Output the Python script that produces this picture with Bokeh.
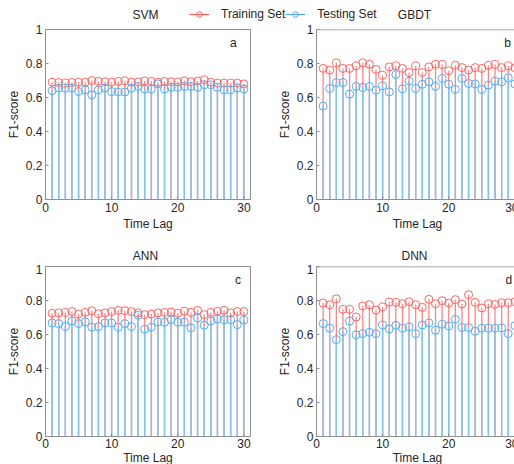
from bokeh.plotting import figure
from bokeh.layouts import column, row, Spacer
from bokeh.models import Range1d, FixedTicker, Label, Legend, LegendItem, Span
from bokeh.embed import file_html
from bokeh.resources import INLINE

lag = list(range(1, 31))

svm_train = [0.690, 0.688, 0.685, 0.688, 0.690, 0.690, 0.700, 0.695, 0.693, 0.690,
             0.695, 0.698, 0.690, 0.692, 0.698, 0.695, 0.690, 0.695, 0.693, 0.692,
             0.698, 0.693, 0.697, 0.705, 0.690, 0.685, 0.685, 0.685, 0.685, 0.680]
svm_test = [0.640, 0.655, 0.655, 0.655, 0.635, 0.645, 0.615, 0.645, 0.655, 0.635,
            0.632, 0.632, 0.655, 0.665, 0.650, 0.650, 0.680, 0.650, 0.660, 0.660,
            0.665, 0.665, 0.660, 0.675, 0.675, 0.660, 0.645, 0.645, 0.655, 0.650]

gbdt_train = [0.771, 0.761, 0.804, 0.771, 0.771, 0.786, 0.804, 0.796, 0.765, 0.731,
              0.780, 0.786, 0.771, 0.747, 0.786, 0.747, 0.780, 0.796, 0.794, 0.757,
              0.790, 0.776, 0.761, 0.776, 0.771, 0.790, 0.794, 0.776, 0.786, 0.775]
gbdt_test = [0.549, 0.653, 0.688, 0.688, 0.620, 0.665, 0.659, 0.665, 0.643, 0.669,
             0.633, 0.735, 0.651, 0.696, 0.653, 0.678, 0.692, 0.665, 0.712, 0.678,
             0.647, 0.712, 0.682, 0.680, 0.647, 0.673, 0.696, 0.692, 0.716, 0.680]

ann_train = [0.725, 0.727, 0.730, 0.735, 0.720, 0.730, 0.740, 0.722, 0.727, 0.735,
             0.742, 0.740, 0.735, 0.727, 0.717, 0.720, 0.727, 0.730, 0.732, 0.725,
             0.737, 0.730, 0.742, 0.717, 0.730, 0.737, 0.742, 0.727, 0.735, 0.735]
ann_test = [0.668, 0.664, 0.648, 0.680, 0.664, 0.674, 0.643, 0.646, 0.668, 0.668,
            0.643, 0.664, 0.646, 0.713, 0.631, 0.643, 0.674, 0.672, 0.687, 0.672,
            0.672, 0.639, 0.697, 0.654, 0.680, 0.691, 0.687, 0.687, 0.658, 0.685]

dnn_train = [0.785, 0.775, 0.810, 0.748, 0.748, 0.703, 0.768, 0.775, 0.744, 0.762,
             0.791, 0.789, 0.781, 0.793, 0.775, 0.760, 0.807, 0.781, 0.799, 0.785,
             0.805, 0.779, 0.834, 0.789, 0.756, 0.781, 0.777, 0.787, 0.787, 0.793]
dnn_test = [0.664, 0.637, 0.570, 0.617, 0.678, 0.598, 0.605, 0.613, 0.605, 0.656,
            0.633, 0.654, 0.637, 0.645, 0.605, 0.656, 0.668, 0.625, 0.660, 0.650,
            0.689, 0.641, 0.641, 0.619, 0.637, 0.637, 0.637, 0.639, 0.605, 0.652]

y_ticks = [0, 0.2, 0.4, 0.6, 0.8, 1]
y_tick_labels = ["0", "0.2", "0.4", "0.6", "0.8", "1"]
x_ticks = [0, 10, 20, 30]

RED = "#ff6464"
RED_STEM = "#ff8484"
BLUE = "#55acee"
BLUE_STEM = "#80c4f4"
AXC = "#8f8f8f"
TXT = "#262626"
FONT = "Liberation Sans"


def style_axis(ax, tick_standoff, lab_standoff):
    ax.axis_line_color = AXC
    ax.major_tick_line_color = AXC
    ax.major_tick_in = 3
    ax.major_tick_out = 0
    ax.minor_tick_line_color = None
    ax.major_label_text_font = FONT
    ax.major_label_text_color = TXT
    ax.major_label_text_font_size = "12px"
    ax.major_label_standoff = tick_standoff
    ax.axis_label_text_font = FONT
    ax.axis_label_text_color = TXT
    ax.axis_label_text_font_style = "normal"
    ax.axis_label_text_font_size = "12px"
    ax.axis_label_standoff = lab_standoff


def panel(train, test, letter, letter_x, fw, fh, x_end, bt, bb, br, full_box, xts, xls):
    p = figure(frame_width=fw, frame_height=fh, x_range=Range1d(0, x_end),
               y_range=Range1d(0, 1), output_backend="svg", toolbar_location=None,
               min_border_left=0, min_border_right=br,
               min_border_top=bt, min_border_bottom=bb)
    p.xgrid.grid_line_color = None
    p.ygrid.grid_line_color = None
    p.xaxis.ticker = FixedTicker(ticks=x_ticks)
    p.yaxis.ticker = FixedTicker(ticks=y_ticks)
    p.yaxis.major_label_overrides = {float(t): s for t, s in zip(y_ticks, y_tick_labels)}
    p.xaxis.axis_label = "Time Lag"
    p.yaxis.axis_label = "F1-score"
    style_axis(p.xaxis[0], xts, xls)
    style_axis(p.yaxis[0], 3, 2)
    if full_box:
        p.outline_line_color = AXC
        p.outline_line_alpha = 1
    else:
        p.outline_line_color = None
        p.add_layout(Span(location=1, dimension="width", line_color=AXC, line_width=1.5))

    zeros = [0] * len(lag)
    p.segment(x0=lag, y0=zeros, x1=lag, y1=train, line_color=RED_STEM, line_width=1.3)
    p.segment(x0=lag, y0=zeros, x1=lag, y1=test, line_color=BLUE_STEM, line_width=1.5)
    p.scatter(lag, train, marker="circle", size=8, fill_color=None, line_color=RED, line_width=1)
    p.scatter(lag, test, marker="circle", size=8, fill_color=None, line_color=BLUE, line_width=1)
    p.add_layout(Label(x=letter_x, y=0.92, text=letter, text_font=FONT, text_font_size="12px",
                       text_color=TXT, text_align="center", text_baseline="middle"))
    return p


def strip(h, titles):
    s = figure(width=514, height=h, x_range=Range1d(0, 514), y_range=Range1d(0, h),
               output_backend="svg", toolbar_location=None,
               min_border=0, min_border_left=0, min_border_right=0,
               min_border_top=0, min_border_bottom=0)
    s.axis.visible = False
    s.grid.visible = False
    s.outline_line_color = None
    for (tx, ty, t) in titles:
        s.add_layout(Label(x=tx, y=ty, x_units="screen", y_units="screen", text=t,
                           text_font=FONT, text_font_size="12px", text_color=TXT,
                           text_align="center", text_baseline="middle"))
    return s


s1 = strip(22, [(145, 8, "SVM"), (414, 8, "GBDT")])
off = [-100, -90]
r_line_tr = s1.line(off, off, line_color=RED, line_width=1.3)
r_dot_tr = s1.scatter(off, off, marker="circle", size=7, fill_color=None, line_color=RED)
r_line_te = s1.line(off, off, line_color=BLUE, line_width=1.3)
r_dot_te = s1.scatter(off, off, marker="circle", size=7, fill_color=None, line_color=BLUE)
leg = Legend(items=[LegendItem(label="Training Set", renderers=[r_line_tr, r_dot_tr]),
                    LegendItem(label="Testing Set", renderers=[r_line_te, r_dot_te])],
             location=(189, 1), orientation="horizontal", border_line_color=None,
             background_fill_alpha=0, padding=2, margin=0, spacing=0,
             glyph_width=20, glyph_height=14, label_standoff=12,
             label_text_font=FONT, label_text_font_size="12px", label_text_color=TXT)
s1.add_layout(leg, "center")

fa = panel(svm_train, svm_test, "a", 28.4, 205, 170, 31, 7, 33, 9, True, 3, 2)
fb = panel(gbdt_train, gbdt_test, "b", 28.9, 202, 170, 30.55, 7, 33, 0, False, 3, 2)
s2 = strip(31, [(145, 9, "ANN"), (414, 9, "DNN")])
fc = panel(ann_train, ann_test, "c", 29.1, 205, 170, 31, 2, 29, 9, True, 2, 0)
fd = panel(dnn_train, dnn_test, "d", 29.1, 202, 170, 30.55, 2, 29, 0, False, 2, 0)

row1 = row(Spacer(width=3, height=210), fa, Spacer(width=15, height=210), fb)
row2 = row(Spacer(width=3, height=201), fc, Spacer(width=15, height=201), fd)
layout = column(s1, row1, s2, row2)
open("out.html", "w").write(file_html(layout, INLINE))
